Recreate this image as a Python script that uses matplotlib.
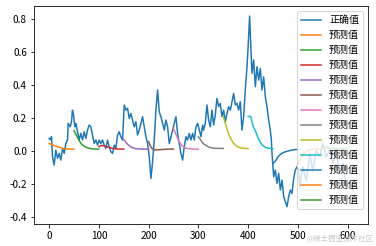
import numpy as np
import matplotlib
matplotlib.use("Agg")
import matplotlib.pyplot as plt

plt.rcParams['font.family'] = ['Noto Sans CJK SC', 'DejaVu Sans']
plt.rcParams['axes.unicode_minus'] = False

# true series (x position, value)
true_x = [0, 3.4, 4.7, 6.7, 10, 13.4, 16.8, 20.1, 23.5, 26.8, 30.2, 33.5, 36.9, 38.2,
          42.3, 44.9, 46.9, 49, 51.6, 53.7, 57, 60.4, 63.7, 67, 70.4, 73.8, 77.1, 80.5,
          83.8, 87.2, 90.5, 93.9, 97.3, 100.6, 104, 107.3, 110.7, 114, 117.4, 120.7,
          124.1, 127.4, 130.8, 134.1, 137.5, 140.8, 144.2, 147.5, 150.9, 154.3, 157.6,
          161, 164.3, 167.7, 171, 174.4, 177.7, 181.1, 184.4, 187.8, 191.1, 194.5, 197.9,
          201.2, 204.6, 207.9, 211.3, 214.6, 218, 221.3, 224.7, 228, 231.4, 234.7, 238.1,
          241.5, 244.8, 248.2, 251.5, 254.9, 258.2, 261.6, 264.9, 268.3, 271.6, 275,
          278.3, 281.7, 285, 288.4, 291.8, 295.1, 298.5, 301.8, 305.2, 308.5, 310.5,
          313.9, 317.2, 320.6, 323.9, 327.3, 330.6, 334, 337.3, 340.7, 344, 347.4, 350.7,
          354.1, 357.5, 360.8, 364.2, 367.5, 370.9, 374.2, 377.6, 380.9, 384.3, 387.6,
          391, 394.3, 397.7, 399.7, 403, 405.7, 407.8, 411.1, 414.5, 417.8, 421.2, 424.5,
          427.9, 431.2, 434.6, 437.9, 441.3, 444.6, 446.7, 448, 450, 451.4, 454.7, 458.1,
          461.4, 464.8, 468.1, 471.5, 474.8, 478.2, 481.5, 484.9, 488.2, 491.6, 494.9,
          498.3, 501.6, 504, 510, 517, 524, 530, 537, 544, 550, 557, 564, 571, 577, 584,
          591, 597, 604, 611]
true_y = [0.077, 0.067, 0.087, -0.034, -0.085, 0.006, -0.044, -0.014, -0.055, 0.016,
          -0.014, 0.046, 0.067, 0.168, 0.147, 0.178, 0.248, 0.218, 0.147, 0.168, 0.117,
          0.067, 0.107, 0.067, 0.117, 0.077, 0.127, 0.158, 0.147, 0.097, 0.046, 0.067,
          0.036, 0.067, 0.046, 0.067, 0.036, 0.016, 0.067, 0.026, -0.004, -0.014, 0.036,
          0.016, 0.097, 0.117, 0.087, 0.067, 0.279, 0.248, 0.259, 0.198, 0.228, 0.188,
          0.147, 0.178, 0.097, 0.127, 0.168, 0.208, 0.147, 0.087, 0.046, -0.034, -0.166,
          -0.065, 0.067, 0.248, 0.37, 0.238, 0.208, 0.168, 0.127, 0.188, 0.147, 0.046,
          0.087, 0.127, 0.168, 0.208, 0.107, 0.046, -0.014, -0.055, 0.026, 0.087, 0.067,
          0.107, 0.067, 0.107, 0.067, 0.147, 0.168, 0.127, 0.087, 0.158, 0.127, 0.168,
          0.279, 0.188, 0.147, 0.248, 0.158, 0.218, 0.319, 0.269, 0.289, 0.208, 0.248,
          0.178, 0.228, 0.269, 0.248, 0.299, 0.349, 0.279, 0.289, 0.248, 0.299, 0.127,
          0.208, 0.37, 0.511, 0.612, 0.818, 0.612, 0.471, 0.552, 0.39, 0.511, 0.43, 0.501,
          0.37, 0.45, 0.329, 0.269, 0.188, 0.127, 0.067, -0.014, -0.095, -0.156, -0.115,
          -0.196, -0.135, -0.236, -0.176, -0.277, -0.307, -0.337, -0.277, -0.236, -0.257,
          -0.166, -0.115, -0.095, -0.12, -0.22, -0.095, -0.18, -0.014, -0.12, 0.006,
          -0.036, 0.046, -0.036, 0.006, -0.075, -0.014, -0.135, -0.075, -0.22, -0.18, -0.24]

# prediction windows: start index and values every 5 steps over 50 steps
pred_starts = [0, 50, 100, 150, 200, 250, 300, 350, 400, 450, 500, 550]
pred_step = 5
pred_vals = [
    [0.046, 0.040, 0.034, 0.028, 0.023, 0.018, 0.015, 0.013, 0.012, 0.012, 0.012],
    [0.123, 0.095, 0.065, 0.042, 0.030, 0.022, 0.017, 0.014, 0.013, 0.012, 0.012],
    [0.026, 0.034, 0.032, 0.028, 0.022, 0.018, 0.015, 0.013, 0.012, 0.012, 0.012],
    [0.070, 0.050, 0.035, 0.024, 0.018, 0.014, 0.013, 0.012, 0.012, 0.012, 0.012],
    [0.057, 0.022, 0.008, 0.007, 0.008, 0.009, 0.010, 0.011, 0.012, 0.012, 0.012],
    [0.137, 0.100, 0.065, 0.040, 0.025, 0.018, 0.015, 0.013, 0.012, 0.012, 0.012],
    [0.087, 0.065, 0.045, 0.035, 0.026, 0.021, 0.018, 0.017, 0.016, 0.016, 0.016],
    [0.210, 0.160, 0.110, 0.075, 0.050, 0.035, 0.024, 0.020, 0.017, 0.016, 0.015],
    [0.210, 0.210, 0.150, 0.120, 0.080, 0.050, 0.032, 0.022, 0.018, 0.016, 0.015],
    [-0.075, -0.060, -0.035, -0.020, -0.010, -0.004, 0.000, 0.004, 0.007, 0.009, 0.010],
    [-0.080, -0.050, -0.025, -0.008, 0.003, 0.008, 0.011, 0.012, 0.013, 0.013, 0.013],
    [0.030, 0.025, 0.020, 0.017, 0.015, 0.014, 0.013, 0.013, 0.013, 0.013, 0.013],
]

fig = plt.figure(figsize=(376 / 72, 246 / 72), dpi=72)
ax = fig.add_axes([0.0904, 0.0894, 0.8883, 0.8862])

ax.plot(true_x, true_y, label='正确值')
for start, vals in zip(pred_starts, pred_vals):
    xs = start + np.arange(len(vals)) * pred_step
    ax.plot(xs, vals, label='预测值')

ax.set_xlim(-30.5, 641)
ax.set_ylim(-0.442, 0.879)
ax.set_xticks([0, 100, 200, 300, 400, 500, 600])
ax.set_yticks([-0.4, -0.2, 0.0, 0.2, 0.4, 0.6, 0.8])
ax.legend(loc='upper right')

fig.text(0.995, 0.012, '@稀土掘金技术社区', ha='right', va='bottom',
         color='#c8c8c8', fontsize=7.5)

fig.savefig('out.png', dpi=72)
